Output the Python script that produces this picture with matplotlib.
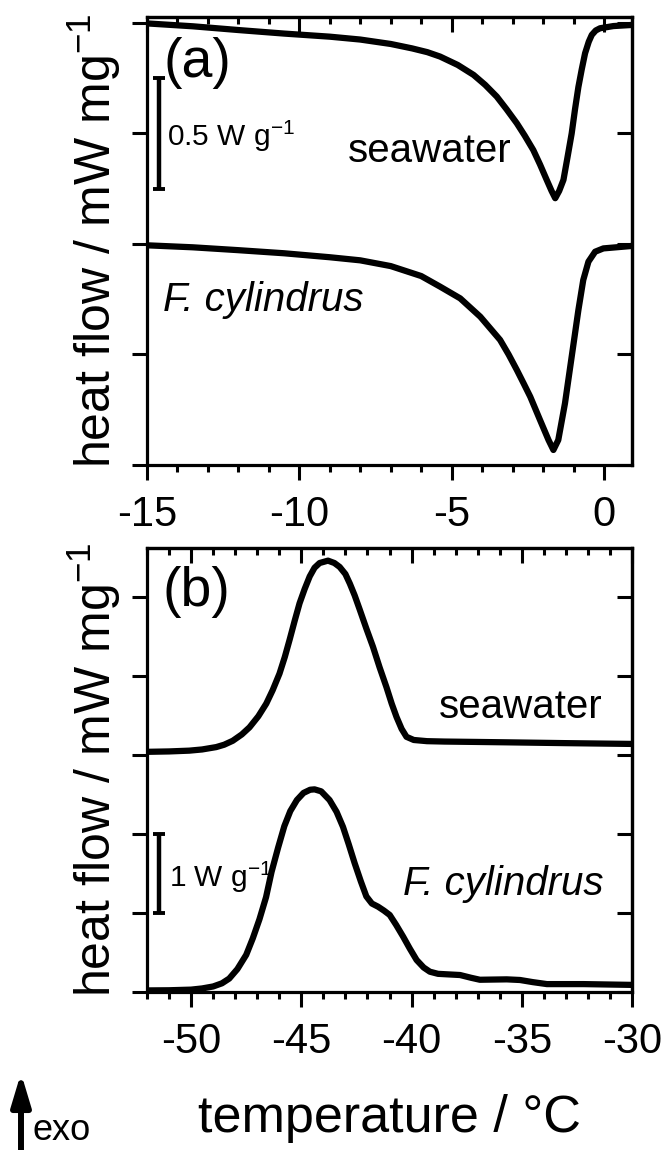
import matplotlib
matplotlib.use('Agg')
import matplotlib.pyplot as plt
from matplotlib.ticker import MultipleLocator

plt.rcParams['font.family'] = ['Liberation Sans', 'DejaVu Sans']
plt.rcParams['mathtext.fontset'] = 'custom'
plt.rcParams['mathtext.rm'] = 'Liberation Sans'
plt.rcParams['mathtext.it'] = 'Liberation Sans:italic'
plt.rcParams['axes.unicode_minus'] = False

# =========================
# data (temperature in degC, heat flow in mW/mg, offset)
# =========================
# (a) melting
temp_a_sw = [-15.0, -13.5, -12.0, -10.5, -9.0, -8.0, -7.0, -6.3, -5.8, -5.38, -4.8,
             -4.28, -3.9, -3.52, -3.2, -2.86, -2.6, -2.32, -2.1, -1.88, -1.72, -1.60,
             -1.47, -1.33, -1.20, -1.06, -0.95, -0.84, -0.73, -0.62, -0.50, -0.40,
             -0.27, -0.13, 0.31, 0.92]
hf_a_sw = [1.998, 1.985, 1.968, 1.952, 1.938, 1.925, 1.905, 1.885, 1.868, 1.848, 1.81,
           1.765, 1.72, 1.667, 1.61, 1.546, 1.49, 1.425, 1.36, 1.29, 1.24, 1.207,
           1.24, 1.29, 1.39, 1.50, 1.61, 1.71, 1.79, 1.863, 1.915, 1.946,
           1.966, 1.976, 1.986, 1.991]

temp_a_fc = [-15.0, -13.5, -12.0, -10.5, -9.0, -8.0, -7.0, -6.0, -5.38, -4.72, -4.06,
             -3.41, -3.13, -2.86, -2.64, -2.42, -2.10, -1.82, -1.66, -1.50, -1.28,
             -1.06, -0.84, -0.68, -0.51, -0.29, -0.02, 0.91]
hf_a_fc = [0.994, 0.985, 0.972, 0.958, 0.94, 0.926, 0.90, 0.855, 0.807, 0.754, 0.671,
           0.566, 0.50, 0.43, 0.37, 0.309, 0.204, 0.113, 0.068, 0.113, 0.279,
           0.49, 0.701, 0.837, 0.92, 0.965, 0.98, 0.991]

# (b) freezing
temp_b_sw = [-52.0, -51.0, -50.08, -49.5, -48.86, -48.5, -48.11, -47.7, -47.35, -46.95,
             -46.59, -46.3, -45.99, -45.75, -45.53, -45.3, -45.08, -44.85, -44.62,
             -44.4, -44.17, -43.79, -43.5, -43.26, -43.0, -42.80, -42.58, -42.35,
             -42.05, -41.75, -41.45, -41.14, -40.9, -40.68, -40.45, -40.23, -39.9,
             -39.3, -38.5, -37.0, -35.6, -33.0, -30.0]
hf_b_sw = [3.04, 3.045, 3.055, 3.07, 3.10, 3.13, 3.18, 3.26, 3.35, 3.49,
           3.65, 3.82, 4.03, 4.24, 4.46, 4.70, 4.92, 5.10, 5.26,
           5.37, 5.43, 5.46, 5.43, 5.38, 5.29, 5.17, 5.02, 4.84,
           4.60, 4.37, 4.11, 3.86, 3.65, 3.48, 3.33, 3.23, 3.19,
           3.175, 3.17, 3.165, 3.16, 3.15, 3.14]

temp_b_fc = [-52.0, -51.0, -50.0, -49.5, -49.0, -48.6, -48.27, -47.9, -47.5, -47.2,
             -46.9, -46.6, -46.35, -46.05, -45.77, -45.5, -45.2, -44.9, -44.6, -44.4,
             -44.1, -43.72, -43.4, -43.11, -42.85, -42.58, -42.3, -42.05, -41.8,
             -41.52, -41.25, -40.99, -40.7, -40.38, -40.08, -39.77, -39.45, -39.17,
             -38.8, -38.41, -37.80, -37.3, -36.90, -35.68, -35.08, -34.5, -33.86,
             -32.2, -30.0]
hf_b_fc = [0.02, 0.022, 0.03, 0.045, 0.07, 0.11, 0.17, 0.29, 0.47, 0.68,
           0.92, 1.2, 1.52, 1.83, 2.10, 2.29, 2.43, 2.52, 2.56, 2.565,
           2.54, 2.43, 2.28, 2.09, 1.87, 1.63, 1.40, 1.21, 1.12,
           1.08, 1.03, 0.975, 0.85, 0.70, 0.55, 0.405, 0.31, 0.257,
           0.23, 0.224, 0.215, 0.18, 0.155, 0.16, 0.152, 0.125, 0.10,
           0.10, 0.09]

# scale bars: (x position, lower end, length)
bar_a = (-14.62, 1.25, 0.5)
bar_b = (-51.44, 1.0, 1.0)

# =========================
# figure
# =========================
fig = plt.figure(figsize=(6.65, 11.5), dpi=100)
ax1 = fig.add_axes([147/665, 1 - 465/1150, 485/665, 448/1150])
ax2 = fig.add_axes([147/665, 1 - 992/1150, 485/665, 444/1150])

LW_AX = 2.3


def style_axis(ax, xlim, ylim, xmajor, ymajor):
    ax.set_xlim(*xlim)
    ax.set_ylim(*ylim)
    ax.xaxis.set_major_locator(MultipleLocator(xmajor))
    ax.xaxis.set_minor_locator(MultipleLocator(1))
    ax.yaxis.set_major_locator(MultipleLocator(ymajor))
    ax.tick_params(which='both', direction='out', width=2.2, labelsize=30, pad=11)
    ax.tick_params(which='major', length=10.8)
    ax.tick_params(which='minor', length=5)
    ax.tick_params(axis='y', labelleft=False)
    for s in ax.spines.values():
        s.set_linewidth(LW_AX)

    # mirrored ticks pointing inward
    top = ax.secondary_xaxis('top')
    top.xaxis.set_major_locator(MultipleLocator(xmajor))
    top.xaxis.set_minor_locator(MultipleLocator(1))
    top.tick_params(which='both', direction='in', width=2.2, labeltop=False)
    top.tick_params(which='major', length=10.8)
    top.tick_params(which='minor', length=5)
    right = ax.secondary_yaxis('right')
    right.yaxis.set_major_locator(MultipleLocator(ymajor))
    right.tick_params(which='both', direction='in', width=2.2, length=10.8,
                      labelright=False)
    for sec in (top, right):
        for s in sec.spines.values():
            s.set_linewidth(LW_AX)


def scale_bar(ax, bar):
    x, y0, length = bar
    ax.errorbar([x], [y0 + length / 2], yerr=[length / 2], fmt='none',
                ecolor='black', elinewidth=3.2, capsize=4, capthick=2.8)


# ---- (a)
ax1.plot(temp_a_sw, hf_a_sw, color='black', lw=4.5, solid_joinstyle='round')
ax1.plot(temp_a_fc, hf_a_fc, color='black', lw=4.5, solid_joinstyle='round')
style_axis(ax1, (-15, 0.92), (0, 2.027), 5, 0.5)
scale_bar(ax1, bar_a)
ax1.text(0.034, 0.897, '(a)', transform=ax1.transAxes, fontsize=40, va='center')
ax1.text(0.041, 0.713, '0.5 W g$^{-1}$', transform=ax1.transAxes, fontsize=21.5,
         va='baseline')
ax1.text(0.752, 0.677, 'seawater', transform=ax1.transAxes, fontsize=29,
         ha='right', va='baseline')
ax1.text(0.032, 0.344, 'F. cylindrus', transform=ax1.transAxes, fontsize=29,
         style='italic', va='baseline')
ax1.set_ylabel('heat flow / mW mg$^{-1}$', fontsize=36)
ax1.yaxis.set_label_coords(-0.05, 0.5)

# ---- (b)
ax2.plot(temp_b_sw, hf_b_sw, color='black', lw=4.5, solid_joinstyle='round')
ax2.plot(temp_b_fc, hf_b_fc, color='black', lw=4.5, solid_joinstyle='round')
style_axis(ax2, (-52, -30), (0, 5.62), 5, 1)
scale_bar(ax2, bar_b)
ax2.text(0.032, 0.901, '(b)', transform=ax2.transAxes, fontsize=40, va='center')
ax2.text(0.046, 0.237, '1 W g$^{-1}$', transform=ax2.transAxes, fontsize=21.5,
         va='baseline')
ax2.text(0.939, 0.618, 'seawater', transform=ax2.transAxes, fontsize=29,
         ha='right', va='baseline')
ax2.text(0.941, 0.218, 'F. cylindrus', transform=ax2.transAxes, fontsize=29,
         style='italic', ha='right', va='baseline')
ax2.set_ylabel('heat flow / mW mg$^{-1}$', fontsize=36)
ax2.yaxis.set_label_coords(-0.05, 0.5)
ax2.set_xlabel('temperature / °C', fontsize=37.5)
ax2.xaxis.set_label_coords(0.5, -0.23)

# exo arrow
ax2.annotate('', xy=(21/665, 1 - 1073/1150), xytext=(21/665, 0),
             xycoords='figure fraction', textcoords='figure fraction',
             arrowprops=dict(arrowstyle='-|>,head_length=0.4,head_width=0.12',
                             lw=4.3, color='black', mutation_scale=48,
                             shrinkA=0, shrinkB=0))
fig.text(32/665, 1 - 1140/1150, 'exo', fontsize=26, va='baseline')

fig.savefig('out.png', dpi=100)
